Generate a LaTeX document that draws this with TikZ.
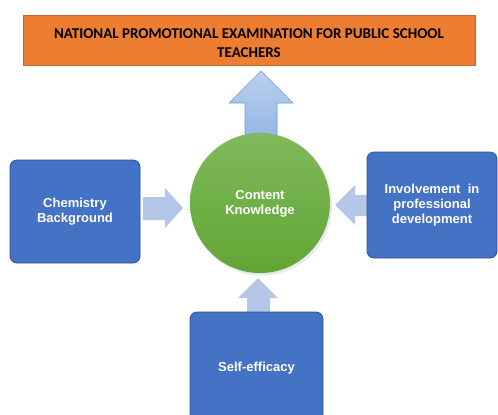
\documentclass[tikz,border=0pt]{standalone}
\usepackage{fontspec}
\setmainfont{Liberation Sans}
\newfontfamily\calib{Carlito}
\definecolor{boxblue}{HTML}{4472C4}
\definecolor{boxedge}{HTML}{2F528F}
\definecolor{orng}{HTML}{ED7D31}
\definecolor{orngedge}{HTML}{C0692E}
\definecolor{arrlight}{HTML}{B4C7E7}
\definecolor{arrtop}{HTML}{BBD0EC}
\definecolor{arrbot}{HTML}{8FB4E3}
\definecolor{arredge}{HTML}{6A9FD8}
\definecolor{grtop}{HTML}{80BA5C}
\definecolor{grbot}{HTML}{62A534}
\begin{document}
\begin{tikzpicture}[x=1pt,y=-1pt,
  bluebox/.style={draw=boxedge,line width=0.8pt,fill=boxblue,rounded corners=7pt,
    text=white,font=\bfseries\fontsize{13}{15}\selectfont,align=center,inner sep=0pt},
  blockarrow/.style={fill=arrlight,draw=none}]
\clip (0,0) rectangle (498,415);
\fill[white] (0,0) rectangle (498,415);
% title
\node[draw=orngedge,line width=0.8pt,fill=orng,minimum width=452pt,minimum height=50pt,
  inner sep=0pt] (titlebox) at (249,40) {};
\node[align=center,inner sep=0pt,font=\calib\bfseries\fontsize{15}{19}\selectfont] (title) at (249,43)
  {NATIONAL PROMOTIONAL EXAMINATION FOR PUBLIC SCHOOL\\TEACHERS};
% top arrow
\shade[top color=arrtop,bottom color=arrbot,draw=arredge,line width=0.6pt]
  (261,71) -- (293,103) -- (277,103) -- (277,145) -- (245,145) -- (245,103) -- (229,103) -- cycle;
% side arrows
\fill[blockarrow] (143,197) -- (165,197) -- (165,188) -- (183,208) -- (165,228) -- (165,220) -- (143,220) -- cycle;
\fill[blockarrow] (368,195) -- (355,195) -- (355,185) -- (335,205) -- (355,225) -- (355,216) -- (368,216) -- cycle;
\fill[blockarrow] (247,316) -- (247,298) -- (238,298) -- (258,278) -- (278,298) -- (270,298) -- (270,316) -- cycle;
% circle
\fill[black!25,opacity=0.35] (261.5,205) circle (70.5);
\shade[top color=grtop,bottom color=grbot] (260,203) circle (70);
\node[text=white,font=\bfseries\fontsize{13}{15}\selectfont,align=center] (ck) at (260,204)
  {Content\\Knowledge};
% boxes
\node[bluebox,minimum width=130pt,minimum height=103pt] (chem) at (75,211.5) {Chemistry\\Background};
\node[bluebox,minimum width=130pt,minimum height=106pt] (inv) at (432,205) {Involvement\ \ in\\professional\\development};
\node[bluebox,minimum width=133pt,minimum height=112pt] (self) at (256.5,368) {Self-efficacy};
\end{tikzpicture}
\end{document}
